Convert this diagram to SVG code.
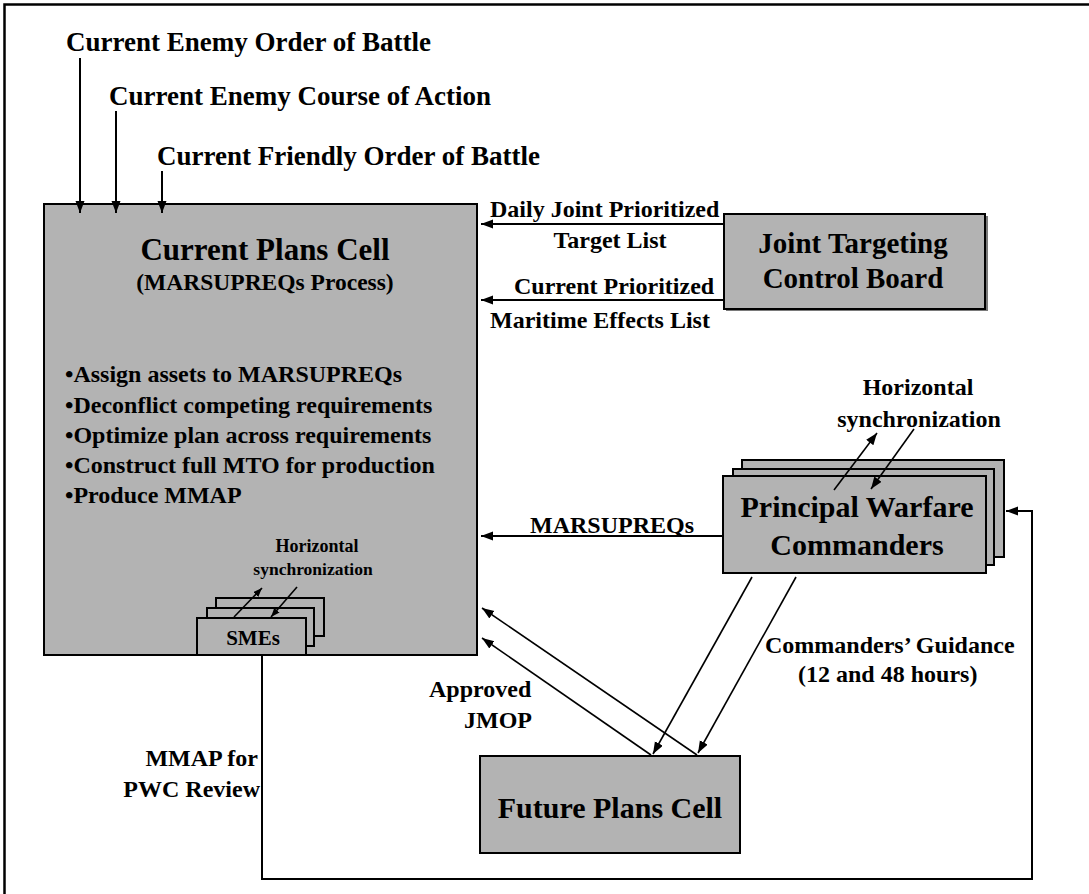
<svg xmlns="http://www.w3.org/2000/svg" width="1089" height="894" viewBox="0 0 1089 894">
  <style>
    text { font-family: "Liberation Serif", "Times New Roman", serif; font-weight: bold; fill: #000; }
    .box { fill: #b3b3b3; stroke: #000; stroke-width: 2; }
    .shadow { fill: #7a7a7a; stroke: none; }
    .line { fill: none; stroke: #000; stroke-width: 2; }
    .thin { fill: none; stroke: #000; stroke-width: 1.6; }
    .lbl { font-size: 24px; }
    .mid { text-anchor: middle; }
    .end { text-anchor: end; }
  </style>
  <defs>
    <marker id="arrow" markerUnits="userSpaceOnUse" markerWidth="13" markerHeight="10" refX="12" refY="4.5" orient="auto">
      <path d="M0,0 L12,4.5 L0,9 z" fill="#000"/>
    </marker>
    <marker id="arrowSmall" markerUnits="userSpaceOnUse" markerWidth="10" markerHeight="8" refX="9" refY="3.5" orient="auto">
      <path d="M0,0 L9,3.5 L0,7 z" fill="#000"/>
    </marker>
  </defs>

  <!-- page frame -->
  <rect x="4.5" y="4.5" width="1100" height="900" fill="#fff" stroke="#000" stroke-width="2.5"/>

  <!-- input labels along the top -->
  <g id="inputs">
    <text x="66" y="51" font-size="27">Current Enemy Order of Battle</text>
    <text x="109" y="105" font-size="27">Current Enemy Course of Action</text>
    <text x="157" y="165" font-size="27">Current Friendly Order of Battle</text>
  </g>

  <!-- Current Plans Cell -->
  <g id="current-plans-cell">
    <rect class="box" x="44" y="204" width="433" height="451"/>
    <text class="mid" x="265" y="260" font-size="31">Current Plans Cell</text>
    <text class="mid" x="265" y="290" font-size="23.5">(MARSUPREQs Process)</text>
    <text class="lbl" x="65" y="382">•Assign assets to MARSUPREQs</text>
    <text class="lbl" x="65" y="413">•Deconflict competing requirements</text>
    <text class="lbl" x="65" y="443">•Optimize plan across requirements</text>
    <text class="lbl" x="65" y="473">•Construct full MTO for production</text>
    <text class="lbl" x="65" y="503">•Produce MMAP</text>
    <text class="mid" x="317" y="552" font-size="18">Horizontal</text>
    <text class="mid" x="313" y="575" font-size="17.5">synchronization</text>
  </g>

  <!-- stacked SMEs cards -->
  <g id="smes">
    <rect class="box" x="216" y="598" width="108" height="38"/>
    <rect class="box" x="207" y="608" width="107" height="38"/>
    <rect class="box" x="197" y="618" width="109" height="37"/>
    <text class="mid" x="253" y="645" font-size="21">SMEs</text>
    <line class="thin" x1="234" y1="617" x2="262" y2="588" marker-end="url(#arrowSmall)"/>
    <line class="thin" x1="297" y1="587" x2="271" y2="617" marker-end="url(#arrowSmall)"/>
  </g>

  <!-- Joint Targeting Control Board -->
  <g id="jtcb">
    <rect class="shadow" x="726" y="216" width="262" height="95"/>
    <rect class="box" x="724" y="214" width="261" height="95"/>
    <text class="mid" x="853" y="253" font-size="29">Joint Targeting</text>
    <text class="mid" x="853" y="288" font-size="29">Control Board</text>
  </g>

  <!-- stacked Principal Warfare Commanders cards -->
  <g id="pwc">
    <rect class="box" x="742" y="460" width="262" height="97"/>
    <rect class="box" x="733" y="469" width="261" height="96"/>
    <rect class="box" x="723" y="476" width="263" height="97"/>
    <text class="mid" x="857" y="517" font-size="30">Principal Warfare</text>
    <text class="mid" x="857" y="555" font-size="30">Commanders</text>
    <text class="mid" x="918" y="395" font-size="24">Horizontal</text>
    <text class="mid" x="919" y="427" font-size="24">synchronization</text>
    <line class="thin" x1="834" y1="490" x2="877" y2="433" marker-end="url(#arrow)"/>
    <line class="thin" x1="914" y1="429" x2="871" y2="489" marker-end="url(#arrow)"/>
  </g>

  <!-- Future Plans Cell -->
  <g id="future-plans-cell">
    <rect class="box" x="480" y="756" width="260" height="97"/>
    <text class="mid" x="610" y="818" font-size="30">Future Plans Cell</text>
  </g>

  <!-- connectors -->
  <g id="connectors">
    <line class="line" x1="80" y1="58" x2="80" y2="213" marker-end="url(#arrow)"/>
    <line class="line" x1="116" y1="111" x2="116" y2="213" marker-end="url(#arrow)"/>
    <line class="line" x1="162" y1="171" x2="162" y2="213" marker-end="url(#arrow)"/>

    <line class="line" x1="724" y1="224" x2="481" y2="224" marker-end="url(#arrow)"/>
    <line class="line" x1="724" y1="300" x2="481" y2="300" marker-end="url(#arrow)"/>
    <line class="line" x1="723" y1="536" x2="481" y2="536" marker-end="url(#arrow)"/>

    <line class="thin" x1="752" y1="577" x2="653" y2="754" marker-end="url(#arrow)"/>
    <line class="thin" x1="796" y1="577" x2="698" y2="753" marker-end="url(#arrow)"/>

    <line class="thin" x1="697" y1="755" x2="482" y2="608" marker-end="url(#arrow)"/>
    <line class="thin" x1="651" y1="755" x2="482" y2="638" marker-end="url(#arrow)"/>

    <path class="line" d="M262,655 V879 H1032 V511 H1006" marker-end="url(#arrow)"/>
  </g>

  <!-- connector labels -->
  <g id="connector-labels">
    <text class="lbl" x="490" y="217">Daily Joint Prioritized</text>
    <text class="lbl mid" x="610" y="248">Target List</text>
    <text class="lbl" x="514" y="294">Current Prioritized</text>
    <text class="lbl" x="490" y="328">Maritime Effects List</text>
    <text class="lbl" x="530" y="533">MARSUPREQs</text>
    <text class="lbl" x="765" y="653">Commanders’ Guidance</text>
    <text class="lbl" x="798" y="682">(12 and 48 hours)</text>
    <text class="lbl" x="429" y="697">Approved</text>
    <text class="lbl" x="464" y="728">JMOP</text>
    <text class="lbl end" x="258" y="766">MMAP for</text>
    <text class="lbl end" x="260" y="797">PWC Review</text>
  </g>
</svg>
